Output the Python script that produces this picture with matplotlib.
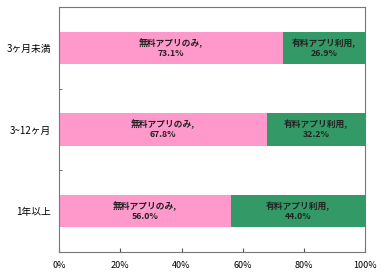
import matplotlib
matplotlib.use('Agg')
import matplotlib.pyplot as plt
import numpy as np

plt.rcParams['font.family'] = ['Noto Sans CJK JP', 'DejaVu Sans']

categories = ['3ヶ月未満', '3~12ヶ月', '1年以上']
free_only = [73.1, 67.8, 56.0]
paid_use = [26.9, 32.2, 44.0]
free_label = '無料アプリのみ'
paid_label = '有料アプリ利用'
xticks = [0, 20, 40, 60, 80, 100]

fig = plt.figure(figsize=(3.84, 2.73), dpi=100)
ax = fig.add_axes([0.154, 0.077, 0.797, 0.897])

y = np.arange(len(categories))
ax.barh(y, free_only, height=0.4, color='#FF99CC')
ax.barh(y, paid_use, left=free_only, height=0.4, color='#339966')

for i in range(len(categories)):
    ax.text(free_only[i] / 2, y[i], f'{free_label},\n{free_only[i]:.1f}%',
            ha='center', va='center', fontsize=6.3, fontweight='bold',
            linespacing=1.15, color='#222222')
    ax.text(free_only[i] + paid_use[i] / 2, y[i], f'{paid_label},\n{paid_use[i]:.1f}%',
            ha='center', va='center', fontsize=6.3, fontweight='bold',
            linespacing=1.15, color='#222222')

ax.set_xlim(0, 100)
ax.set_ylim(len(categories) - 0.5, -0.5)
ax.set_xticks(xticks)
ax.set_xticklabels([f'{v}%' for v in xticks], fontsize=6.5)
ax.tick_params(axis='x', direction='in', length=3, pad=6.5, color='#555555')

# category labels without ticks, small ticks at boundaries
ax.set_yticks(y)
ax.set_yticklabels(categories, fontsize=7)
ax.tick_params(axis='y', length=0, pad=6)
ax.set_yticks([0.5, 1.5], minor=True)
ax.tick_params(axis='y', which='minor', direction='in', length=2.5, color='#555555')

for s in ax.spines.values():
    s.set_color('#777777')
    s.set_linewidth(0.8)

fig.savefig('out.png', dpi=100)
